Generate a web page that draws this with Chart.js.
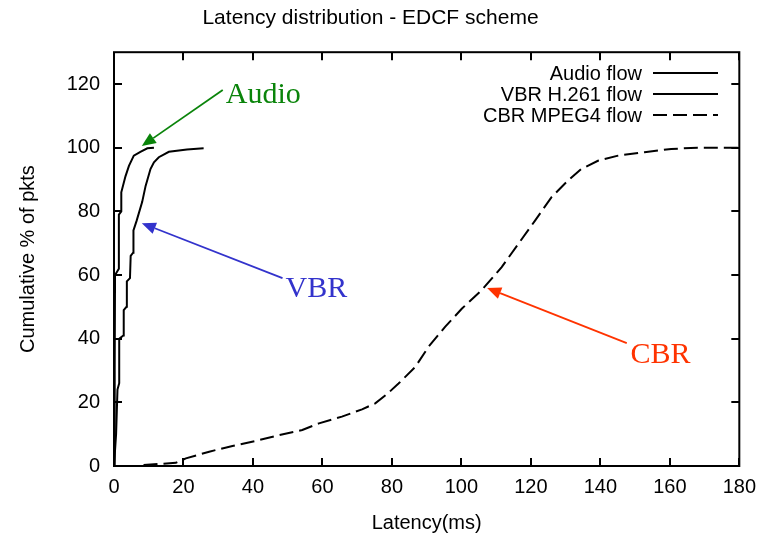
<!DOCTYPE html>
<html>
<head>
<meta charset="utf-8">
<script src="https://cdn.jsdelivr.net/npm/chart.js@4/dist/chart.umd.min.js"></script>
<style>
  html, body { margin: 0; padding: 0; background: #fff; }
  #wrap { width: 765px; height: 535px; }
</style>
</head>
<body>
<div id="wrap"><canvas id="c" width="765" height="535"></canvas></div>
<script>
// ---- data ----
const chartTitle = 'Latency distribution - EDCF scheme';
const xAxisTitle = 'Latency(ms)';
const yAxisTitle = 'Cumulative % of pkts';
const xTickValues = [0, 20, 40, 60, 80, 100, 120, 140, 160, 180];
const yTickValues = [0, 20, 40, 60, 80, 100, 120];
const seriesNames = ['Audio flow', 'VBR H.261 flow', 'CBR MPEG4 flow'];

const audioX = [0, 0.2, 0.3, 1.4, 1.4, 2.1, 2.1, 3.3, 4.3, 5.7, 7.6, 9.6, 11.5];
const audioY = [0, 30, 60, 62, 79, 80, 86, 91, 94.3, 97.5, 98.7, 99.8, 100];

const vbrX = [0, 0.6, 1.0, 1.5, 1.5, 2.7, 2.8, 3.6, 3.7, 4.6, 4.8, 5.5, 5.6, 6.5, 8.1, 9.1, 10.5, 11.5, 12.9, 15.8, 21, 25.8];
const vbrY = [0, 10, 24, 26, 40, 41, 49, 50, 58, 59, 66, 67, 74, 77, 82.9, 88, 93.3, 95.4, 97, 98.7, 99.4, 99.8];

const cbrX = [8.5, 17.8, 20.7, 27.4, 34.1, 40.8, 47.5, 54.2, 59, 65.6, 71.4, 75.2, 78.5, 81.9, 86.7, 90.5, 95.3, 100.1, 105.8, 111.6, 116.4, 121.2, 125.9, 130.7, 134.5, 139.3, 145.1, 152.7, 160.4, 168, 179.6];
const cbrY = [0.3, 1.0, 2.4, 4.5, 6.3, 7.9, 9.7, 11.3, 13.4, 15.5, 17.8, 19.7, 22.5, 25.9, 31.1, 37.4, 43.7, 49.4, 55.2, 62.5, 69.8, 77.1, 84.4, 89.7, 93.3, 95.9, 97.5, 98.6, 99.6, 100, 100];

// annotations (data coordinates): label, colour, text anchor, arrow tail, arrow tip
const noteLabels = ['Audio', 'VBR', 'CBR'];
const noteColors = ['#0a840a', '#3333cc', '#ff3300'];
const noteTextX = [32.2, 49.4, 148.7];
const noteTextY = [114.0, 53.1, 32.3];
const noteTailX = [31.3, 48.5, 147.6];
const noteTailY = [118.1, 59.0, 38.6];
const noteTipX = [8.0, 8.0, 107.4];
const noteTipY = [100.5, 76.3, 55.9];

const toPts = (xs, ys) => xs.map((x, i) => ({ x: x, y: ys[i] }));

const SANS = '"Liberation Sans", Arial, sans-serif';
const SERIF = '"Liberation Serif", "Times New Roman", serif';

const bgPlugin = {
  id: 'bg',
  beforeDraw(chart) {
    const ctx = chart.ctx;
    ctx.save();
    ctx.fillStyle = '#ffffff';
    ctx.fillRect(0, 0, chart.width, chart.height);
    ctx.restore();
  }
};

const framePlugin = {
  id: 'frame',
  afterDatasetsDraw(chart) {
    const { ctx, chartArea: a, scales } = chart;
    ctx.save();
    ctx.strokeStyle = '#000';
    ctx.lineWidth = 2;
    ctx.strokeRect(a.left, a.top, a.right - a.left, a.bottom - a.top);
    const tl = 8;
    ctx.beginPath();
    xTickValues.forEach(v => {
      const px = Math.round(scales.x.getPixelForValue(v));
      ctx.moveTo(px, a.bottom); ctx.lineTo(px, a.bottom - tl);
      ctx.moveTo(px, a.top); ctx.lineTo(px, a.top + tl);
    });
    yTickValues.forEach(v => {
      const py = Math.round(scales.y.getPixelForValue(v));
      ctx.moveTo(a.left, py); ctx.lineTo(a.left + tl, py);
      ctx.moveTo(a.right, py); ctx.lineTo(a.right - tl, py);
    });
    ctx.stroke();

    // legend (gnuplot style: right-aligned text, sample to the right)
    const textRight = 642, sx0 = 653, sx1 = 718, rowY = [73, 94, 115];
    ctx.font = '20px ' + SANS;
    ctx.fillStyle = '#000';
    ctx.textAlign = 'right';
    ctx.textBaseline = 'middle';
    chart.data.datasets.forEach((ds, i) => {
      ctx.fillText(ds.label, textRight, rowY[i] + 1);
      ctx.beginPath();
      ctx.setLineDash(ds.borderDash || []);
      ctx.lineWidth = 2;
      ctx.moveTo(sx0, rowY[i]); ctx.lineTo(sx1, rowY[i]);
      ctx.stroke();
    });
    ctx.setLineDash([]);

    // annotations
    noteLabels.forEach((lab, i) => {
      const tx = scales.x.getPixelForValue(noteTailX[i]);
      const ty = scales.y.getPixelForValue(noteTailY[i]);
      const hx = scales.x.getPixelForValue(noteTipX[i]);
      const hy = scales.y.getPixelForValue(noteTipY[i]);
      const ang = Math.atan2(hy - ty, hx - tx);
      const hl = 14, hw = 6;
      const bx = hx - hl * Math.cos(ang), by = hy - hl * Math.sin(ang);
      ctx.strokeStyle = noteColors[i];
      ctx.fillStyle = noteColors[i];
      ctx.lineWidth = 1.8;
      ctx.beginPath();
      ctx.moveTo(tx, ty); ctx.lineTo(bx, by);
      ctx.stroke();
      ctx.beginPath();
      ctx.moveTo(hx, hy);
      ctx.lineTo(bx + hw * Math.sin(ang), by - hw * Math.cos(ang));
      ctx.lineTo(bx - hw * Math.sin(ang), by + hw * Math.cos(ang));
      ctx.closePath();
      ctx.fill();
      ctx.font = '30px ' + SERIF;
      ctx.textAlign = 'left';
      ctx.textBaseline = 'alphabetic';
      ctx.fillText(lab, scales.x.getPixelForValue(noteTextX[i]), scales.y.getPixelForValue(noteTextY[i]));
    });
    ctx.restore();
  }
};

new Chart(document.getElementById('c'), {
  type: 'line',
  data: {
    datasets: [
      { label: seriesNames[0], data: toPts(audioX, audioY), borderColor: '#000', borderWidth: 2, pointRadius: 0, tension: 0, fill: false },
      { label: seriesNames[1], data: toPts(vbrX, vbrY), borderColor: '#000', borderWidth: 2, pointRadius: 0, tension: 0, fill: false },
      { label: seriesNames[2], data: toPts(cbrX, cbrY), borderColor: '#000', borderWidth: 2, pointRadius: 0, tension: 0, fill: false, borderDash: [14, 6] }
    ]
  },
  options: {
    responsive: false,
    animation: false,
    devicePixelRatio: 1,
    layout: { padding: { left: 0, right: 24, top: 0, bottom: 0 } },
    plugins: {
      legend: { display: false },
      tooltip: { enabled: false },
      title: {
        display: true, text: chartTitle, color: '#000',
        font: { family: SANS, size: 21, weight: 'normal' },
        padding: { top: 6, bottom: 21 }
      }
    },
    scales: {
      x: {
        type: 'linear', min: 0, max: 180,
        afterFit(s) { s.height = 69; },
        grid: { display: false, drawTicks: false },
        border: { display: false },
        ticks: {
          stepSize: 20, color: '#000', padding: 9, maxRotation: 0,
          font: { family: SANS, size: 20 }
        },
        title: {
          display: true, text: xAxisTitle, color: '#000',
          font: { family: SANS, size: 20 }, padding: { top: 2, bottom: 0 }
        }
      },
      y: {
        type: 'linear', min: 0, max: 130,
        afterFit(s) { s.width = 114; },
        grid: { display: false, drawTicks: false },
        border: { display: false },
        ticks: {
          stepSize: 20, includeBounds: false, color: '#000', padding: 14,
          font: { family: SANS, size: 20 }
        },
        title: {
          display: true, text: yAxisTitle, color: '#000',
          font: { family: SANS, size: 20 }, padding: { top: 16, bottom: 0 }
        }
      }
    }
  },
  plugins: [bgPlugin, framePlugin]
});
</script>
</body>
</html>
